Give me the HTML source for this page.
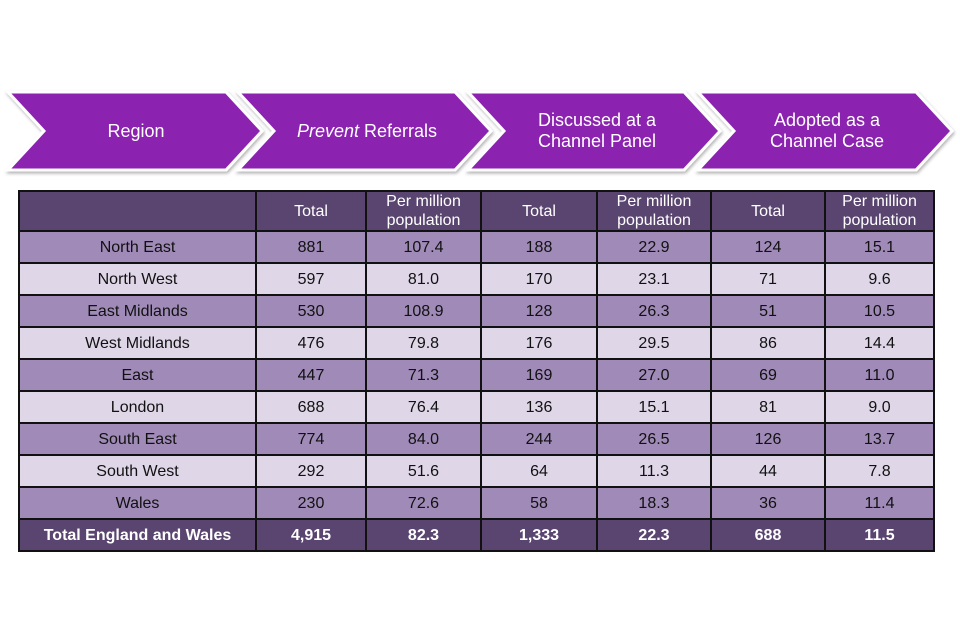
<!DOCTYPE html>
<html><head><meta charset="utf-8"><style>
body{margin:0;width:960px;height:640px;background:#fff;font-family:"Liberation Sans",sans-serif;position:relative;overflow:hidden}
svg{position:absolute;left:0;top:0}
table{position:absolute;left:18px;top:190px;border-collapse:collapse;width:915px;font-size:16px;color:#111;table-layout:fixed}
td{border:2px solid #111;text-align:center;padding:0;line-height:19px}
tr{height:32px}
tr.h{height:39px}
tr.h td{background:#5a4570;color:#fff}
tr.d td{background:#a08ab8}
tr.l td{background:#dfd6e8}
tr.t td{background:#5a4570;color:#fff;font-weight:bold}
</style></head><body>
<svg width="960" height="190">
<defs><filter id="s"><feDropShadow dx="1" dy="2" stdDeviation="1.5" flood-color="#000" flood-opacity="0.3"/></filter></defs>
<g fill="#8b22b0" stroke="#fff" stroke-width="3" filter="url(#s)">
<polygon points="8,92 226,92 262,131 226,170 8,170 44,131"/>
<polygon points="238,92 455,92 491,131 455,170 238,170 274,131"/>
<polygon points="468,92 684,92 720,131 684,170 468,170 504,131"/>
<polygon points="698,92 916,92 952,131 916,170 698,170 734,131"/>
</g>
<g fill="#fff" font-size="18" text-anchor="middle" font-family="Liberation Sans,sans-serif">
<text x="136" y="137">Region</text>
<text x="367" y="137"><tspan font-style="italic">Prevent</tspan> Referrals</text>
<text x="597" y="126">Discussed at a</text>
<text x="597" y="147">Channel Panel</text>
<text x="827" y="126">Adopted as a</text>
<text x="827" y="147">Channel Case</text>
</g></svg>
<table>
<colgroup><col style="width:237px"><col style="width:110px"><col style="width:115px"><col style="width:116px"><col style="width:114px"><col style="width:114px"><col style="width:109px"></colgroup>
<tr class="h"><td></td><td>Total</td><td>Per million<br>population</td><td>Total</td><td>Per million<br>population</td><td>Total</td><td>Per million<br>population</td></tr>
<tr class="d"><td>North East</td><td>881</td><td>107.4</td><td>188</td><td>22.9</td><td>124</td><td>15.1</td></tr>
<tr class="l"><td>North West</td><td>597</td><td>81.0</td><td>170</td><td>23.1</td><td>71</td><td>9.6</td></tr>
<tr class="d"><td>East Midlands</td><td>530</td><td>108.9</td><td>128</td><td>26.3</td><td>51</td><td>10.5</td></tr>
<tr class="l"><td>West Midlands</td><td>476</td><td>79.8</td><td>176</td><td>29.5</td><td>86</td><td>14.4</td></tr>
<tr class="d"><td>East</td><td>447</td><td>71.3</td><td>169</td><td>27.0</td><td>69</td><td>11.0</td></tr>
<tr class="l"><td>London</td><td>688</td><td>76.4</td><td>136</td><td>15.1</td><td>81</td><td>9.0</td></tr>
<tr class="d"><td>South East</td><td>774</td><td>84.0</td><td>244</td><td>26.5</td><td>126</td><td>13.7</td></tr>
<tr class="l"><td>South West</td><td>292</td><td>51.6</td><td>64</td><td>11.3</td><td>44</td><td>7.8</td></tr>
<tr class="d"><td>Wales</td><td>230</td><td>72.6</td><td>58</td><td>18.3</td><td>36</td><td>11.4</td></tr>
<tr class="t"><td>Total England and Wales</td><td>4,915</td><td>82.3</td><td>1,333</td><td>22.3</td><td>688</td><td>11.5</td></tr>
</table>
</body></html>
